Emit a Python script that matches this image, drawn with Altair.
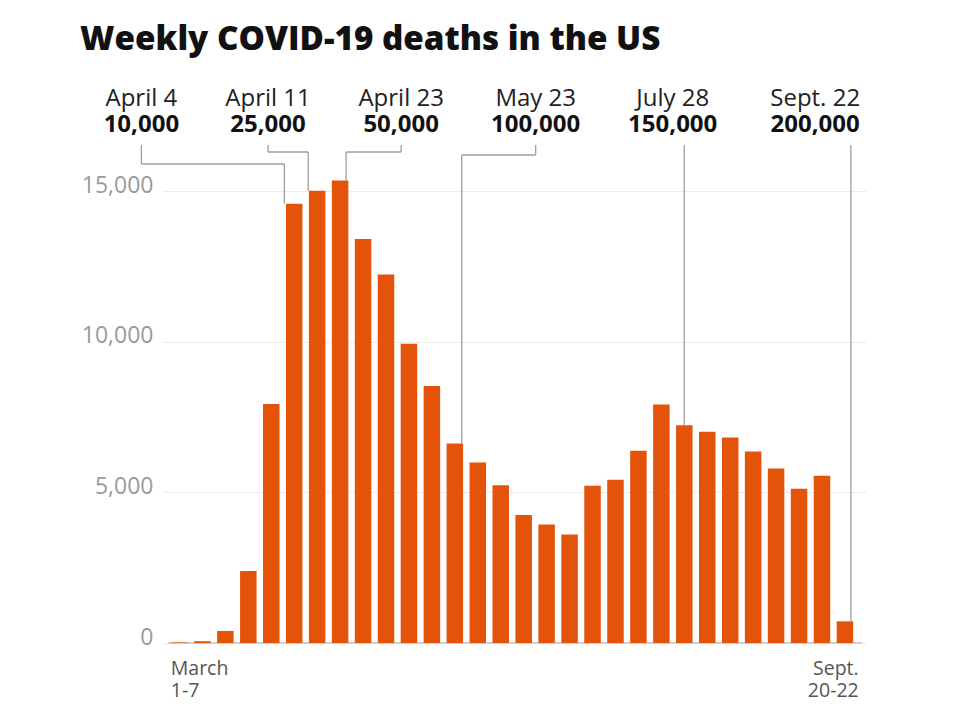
import altair as alt
import pandas as pd

# ---------------- data ----------------
weeks = [
    "Mar 1-7", "Mar 8-14", "Mar 15-21", "Mar 22-28", "Mar 29-Apr 4",
    "Apr 5-11", "Apr 12-18", "Apr 19-25", "Apr 26-May 2", "May 3-9",
    "May 10-16", "May 17-23", "May 24-30", "May 31-Jun 6", "Jun 7-13",
    "Jun 14-20", "Jun 21-27", "Jun 28-Jul 4", "Jul 5-11", "Jul 12-18",
    "Jul 19-25", "Jul 26-Aug 1", "Aug 2-8", "Aug 9-15", "Aug 16-22",
    "Aug 23-29", "Aug 30-Sep 5", "Sep 6-12", "Sep 13-19", "Sep 20-22",
]
deaths = [
    20, 60, 400, 2390, 7930,
    14580, 15010, 15350, 13410, 12230,
    9930, 8530, 6620, 5990, 5240,
    4250, 3930, 3600, 5220, 5420,
    6380, 7920, 7230, 7010, 6820,
    6360, 5790, 5120, 5550, 720,
]
milestone_dates = ["April 4", "April 11", "April 23", "May 23", "July 28", "Sept. 22"]
milestone_totals = ["10,000", "25,000", "50,000", "100,000", "150,000", "200,000"]
# position of each milestone along the week axis (in weeks since March 1)
milestone_week = [5.07, 6.11, 7.76, 12.8, 22.5, 29.76]
x_tick_labels = ["March\n1-7", "Sept.\n20-22"]
y_ticks = [0, 5000, 10000, 15000]
title_text = "Weekly COVID-19 deaths in the US"

# ---------------- layout ----------------
FONT = "Open Sans"
ORANGE = "#e3540a"
W, H = 703, 482
PAD = {"left": 155, "top": 153, "right": 80, "bottom": 62}
XMAX, YMAX = 30.2, 16000
X0_PAGE = 8 + PAD["left"]
Y0_PAGE = 8 + PAD["top"] + H


def xv(page_x):
    return (page_x - X0_PAGE) / W * XMAX


def yv(page_y):
    return (Y0_PAGE - page_y) / H * YMAX


def yp(page_y):
    return page_y - (8 + PAD["top"])


xscale = alt.Scale(domain=[0, XMAX], nice=False, zero=False)
yscale = alt.Scale(domain=[0, YMAX], nice=False)

bars_df = pd.DataFrame({
    "week": weeks,
    "pos": [i + 0.5 for i in range(len(weeks))],
    "deaths": deaths,
})

# label centres (page px) and connector elbows
label_cx = [136, 264.5, 399.5, 536, 675, 819.5]
elbow_py = [164, 152, 152, 155, None, None]
TOP_PY = 145

segs = []
for i, (wk, lx, ey) in enumerate(zip(milestone_week, label_cx, elbow_py)):
    bar_top = deaths[int(wk)]
    if ey is None:
        segs.append({"x": wk, "x2": wk, "y": yv(TOP_PY), "y2": bar_top})
    else:
        segs.append({"x": xv(lx), "x2": xv(lx), "y": yv(TOP_PY), "y2": yv(ey)})
        segs.append({"x": xv(lx), "x2": wk, "y": yv(ey), "y2": yv(ey)})
        segs.append({"x": wk, "x2": wk, "y": yv(ey), "y2": bar_top})
segs_df = pd.DataFrame(segs)

labels_df = pd.DataFrame({
    "date": milestone_dates,
    "total": milestone_totals,
    "cx": [xv(v) for v in label_cx],
})

xlab_df = pd.DataFrame({
    "text": x_tick_labels,
    "x": [0.12, XMAX - 0.1],
})

base_rule = alt.Chart(pd.DataFrame({"x": [0], "x2": [XMAX + 0.05], "y": [0]})).mark_rule(
    color="#c4c4c4", strokeWidth=1.5
).encode(
    x=alt.X("x:Q", scale=xscale, axis=None),
    x2="x2:Q",
    y=alt.Y("y:Q", scale=yscale),
)

bars = alt.Chart(bars_df).mark_bar(width=16.5, color=ORANGE).encode(
    x=alt.X("pos:Q", scale=xscale, axis=None),
    y=alt.Y(
        "deaths:Q",
        scale=yscale,
        title=None,
        axis=alt.Axis(
            values=y_ticks,
            format=",.0f",
            grid=True,
            gridColor="#ececec",
            gridWidth=1,
            domain=False,
            ticks=False,
            labelFont=FONT,
            labelFontSize=23,
            labelColor="#9a9a9a",
            labelPadding=10,
            labelBaseline="alphabetic",
            labelOffset=1,
        ),
    ),
    tooltip=["week:N", "deaths:Q"],
)

connectors = alt.Chart(segs_df).mark_rule(color="#9e9e9e", strokeWidth=1.3).encode(
    x=alt.X("x:Q", scale=xscale),
    x2="x2:Q",
    y=alt.Y("y:Q", scale=yscale),
    y2="y2:Q",
)

lab1 = alt.Chart(labels_df).mark_text(
    font=FONT, fontSize=24, color="#222", baseline="alphabetic", align="center"
).encode(
    x=alt.X("cx:Q", scale=xscale),
    y=alt.value(yp(106)),
    text="date:N",
)
lab2 = alt.Chart(labels_df).mark_text(
    font=FONT, fontSize=24, fontWeight="bold", color="#111", baseline="alphabetic", align="center"
).encode(
    x=alt.X("cx:Q", scale=xscale),
    y=alt.value(yp(132)),
    text="total:N",
)

xlab_left = alt.Chart(xlab_df.iloc[[0]]).mark_text(
    font=FONT, fontSize=19.5, color="#555", baseline="alphabetic", align="left",
    lineBreak="\n", lineHeight=22,
).encode(
    x=alt.X("x:Q", scale=xscale),
    y=alt.value(yp(675)),
    text="text:N",
)
xlab_right = alt.Chart(xlab_df.iloc[[1]]).mark_text(
    font=FONT, fontSize=19.5, color="#555", baseline="alphabetic", align="right",
    lineBreak="\n", lineHeight=22,
).encode(
    x=alt.X("x:Q", scale=xscale),
    y=alt.value(yp(675)),
    text="text:N",
)

chart = alt.layer(
    base_rule, bars, connectors, lab1, lab2, xlab_left, xlab_right
).properties(
    width=W,
    height=H,
    padding=PAD,
    background="white",
    autosize=alt.AutoSizeParams(type="none"),
    title=alt.Title(
        title_text,
        anchor="start",
        frame="group",
        dx=-83,
        offset=30,
        font=FONT,
        fontSize=33.2,
        fontWeight=800,
        color="#111",
    ),
).configure_view(stroke=None)

chart.save("out.html", embed_options={"renderer": "svg", "actions": False})
